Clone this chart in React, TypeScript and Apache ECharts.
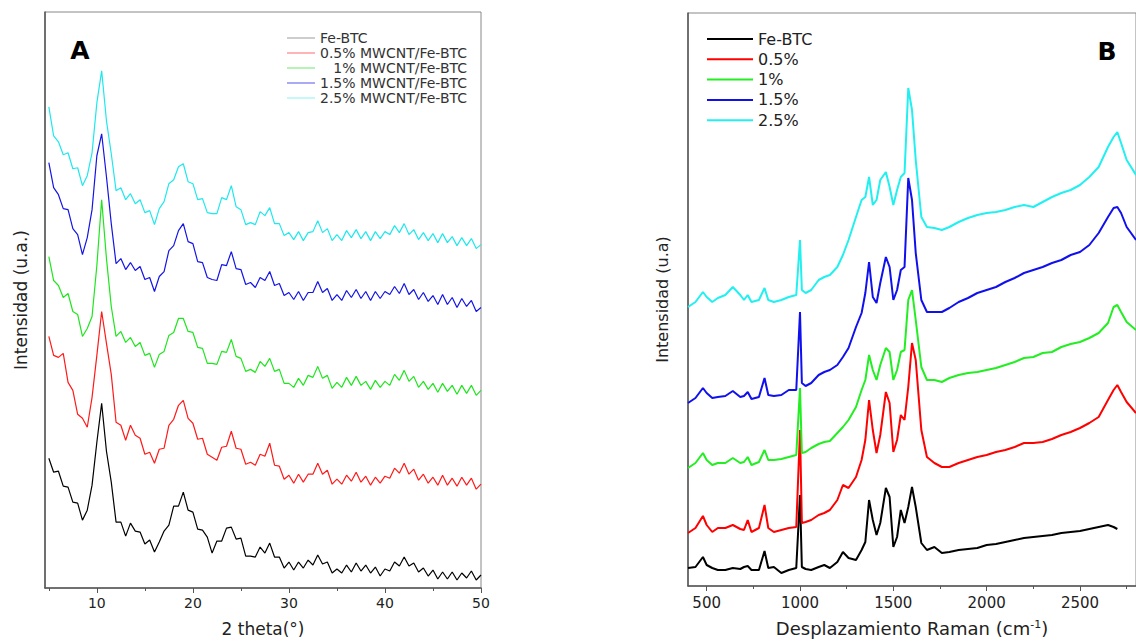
import React, { useEffect, useRef } from "react";
import * as echarts from "echarts";

// ---------- Panel A: XRD (2 theta, degrees) ----------
const theta = [
  5, 5.5, 6, 6.5, 7, 7.5, 8, 8.5, 9, 9.5,
  10, 10.5, 11, 11.5, 12, 12.5, 13, 13.5, 14, 14.5,
  15, 15.5, 16, 16.5, 17, 17.5, 18, 18.5, 19, 19.5,
  20, 20.5, 21, 21.5, 22, 22.5, 23, 23.5, 24, 24.5,
  25, 25.5, 26, 26.5, 27, 27.5, 28, 28.5, 29, 29.5,
  30, 30.5, 31, 31.5, 32, 32.5, 33, 33.5, 34, 34.5,
  35, 35.5, 36, 36.5, 37, 37.5, 38, 38.5, 39, 39.5,
  40, 40.5, 41, 41.5, 42, 42.5, 43, 43.5, 44, 44.5,
  45, 45.5, 46, 46.5, 47, 47.5, 48, 48.5, 49, 49.5,
  50,
];

const xrdFeBTC = [
  130, 116, 117, 102, 101, 86, 85, 68, 78, 103,
  146, 185, 137, 106, 66, 66, 52, 65, 57, 56,
  44, 48, 36, 46, 57, 63, 82, 82, 96, 78,
  76, 59, 58, 51, 35, 47, 47, 60, 61, 49,
  50, 32, 32, 31, 41, 35, 45, 31, 31, 20,
  26, 18, 26, 20, 28, 23, 33, 24, 26, 15,
  19, 15, 23, 16, 25, 17, 23, 15, 21, 12,
  19, 17, 26, 22, 31, 22, 25, 16, 20, 12,
  18, 9, 16, 9, 16, 8, 15, 10, 17, 8,
  13,
];
const xrd05 = [
  252, 233, 231, 235, 206, 198, 174, 170, 161, 191,
  233, 277, 245, 214, 166, 163, 148, 163, 153, 150,
  134, 136, 125, 139, 140, 163, 169, 183, 188, 170,
  165, 149, 150, 134, 131, 128, 141, 142, 157, 140,
  139, 124, 126, 123, 134, 132, 145, 123, 122, 109,
  113, 105, 114, 106, 114, 114, 125, 114, 118, 104,
  109, 104, 113, 107, 116, 106, 112, 103, 111, 105,
  112, 110, 120, 115, 125, 114, 119, 108, 114, 105,
  111, 103, 113, 103, 110, 102, 111, 103, 110, 99,
  104,
];
const xrd1 = [
  332, 308, 303, 291, 295, 277, 274, 252, 260, 272,
  323, 389, 330, 282, 252, 257, 246, 251, 242, 246,
  233, 235, 221, 234, 237, 253, 256, 270, 270, 257,
  256, 241, 240, 225, 225, 224, 237, 236, 249, 232,
  230, 217, 219, 216, 227, 222, 230, 217, 219, 205,
  205, 201, 210, 203, 213, 211, 222, 210, 213, 200,
  206, 201, 211, 203, 212, 203, 207, 199, 208, 201,
  207, 203, 214, 208, 218, 207, 212, 201, 207, 199,
  205, 196, 205, 197, 203, 194, 203, 195, 203, 193,
  198,
];
const xrd15 = [
  426, 401, 394, 380, 379, 360, 354, 334, 351, 379,
  433, 455, 412, 365, 325, 330, 319, 326, 318, 322,
  309, 311, 297, 312, 317, 338, 343, 358, 365, 347,
  345, 327, 326, 311, 309, 308, 324, 323, 337, 320,
  319, 304, 306, 301, 311, 308, 317, 303, 305, 293,
  296, 289, 297, 288, 296, 296, 307, 296, 300, 288,
  294, 288, 298, 291, 299, 290, 297, 288, 297, 290,
  297, 294, 302, 295, 305, 294, 299, 289, 296, 287,
  293, 284, 294, 284, 291, 281, 290, 282, 288, 277,
  281,
];
const xrd25 = [
  482, 453, 447, 434, 436, 420, 421, 403, 413, 436,
  486, 518, 468, 435, 398, 401, 389, 395, 385, 389,
  376, 378, 364, 380, 387, 405, 409, 422, 425, 407,
  405, 389, 390, 376, 375, 375, 391, 389, 403, 382,
  379, 364, 366, 364, 377, 373, 381, 365, 365, 353,
  356, 349, 357, 348, 356, 357, 368, 356, 360, 348,
  354, 348, 358, 351, 359, 350, 357, 348, 357, 350,
  357, 354, 363, 356, 365, 354, 359, 349, 356, 348,
  355, 346, 355, 346, 352, 343, 351, 343, 350, 340,
  344,
];
const xrdNames = [
  "Fe-BTC",
  "0.5% MWCNT/Fe-BTC",
  "1% MWCNT/Fe-BTC",
  "1.5% MWCNT/Fe-BTC",
  "2.5% MWCNT/Fe-BTC",
];
const xrdTickLabels = [10, 20, 30, 40, 50];
const xrdMinorTicks = [5, 15, 25, 35, 45];

// ---------- Panel B: Raman ----------
const ramanShift = [
  400, 440, 480, 500, 530, 560, 600, 640, 680, 700,
  720, 740, 780, 810, 830, 860, 900, 940, 980, 1000,
  1010, 1030, 1060, 1100, 1130, 1160, 1200, 1230, 1260, 1300,
  1330, 1350, 1370, 1390, 1410, 1430, 1460, 1480, 1500, 1520,
  1540, 1560, 1580, 1600, 1620, 1650, 1680, 1720, 1760, 1800,
  1850, 1900, 1950, 2000, 2050, 2100, 2150, 2200, 2250, 2300,
  2350, 2400, 2450, 2500, 2550, 2600, 2650, 2680, 2700, 2720,
  2750, 2800,
];
const ramanFeBTC = [
  18, 19, 29, 21, 18, 16, 16, 18, 17, 19,
  20, 16, 16, 35, 18, 19, 13, 16, 18, 91,
  19, 17, 16, 19, 21, 18, 24, 34, 28, 26,
  36, 44, 86, 66, 51, 63, 98, 89, 39, 49,
  76, 63, 79, 99, 79, 43, 36, 39, 33, 34,
  36, 37, 38, 41, 42, 44, 46, 48, 49, 50,
  51, 53, 54, 55, 57, 59, 61, 59, 57, null,
  null, null,
];
const raman05 = [
  53, 58, 70, 61, 54, 58, 58, 61, 57, 56,
  66, 54, 58, 81, 58, 54, 56, 58, 59, 156,
  63, 64, 66, 71, 73, 76, 86, 101, 98, 109,
  126, 146, 186, 156, 133, 151, 194, 183, 134, 146,
  171, 166, 199, 243, 226, 156, 129, 123, 119, 119,
  123, 126, 129, 131, 134, 136, 139, 143, 143, 144,
  147, 151, 154, 158, 163, 169, 186, 196, 201, 194,
  184, 173,
];
const raman1 = [
  118, 123, 133, 126, 121, 123, 123, 128, 123, 124,
  129, 121, 124, 136, 126, 126, 127, 129, 131, 198,
  133, 134, 138, 142, 144, 145, 153, 159, 166, 179,
  196, 206, 231, 216, 206, 221, 238, 234, 206, 216,
  234, 236, 286, 296, 266, 219, 206, 206, 204, 208,
  211, 213, 214, 216, 218, 221, 224, 228, 229, 233,
  234, 239, 242, 244, 248, 253, 263, 279, 281, 274,
  264, 256,
];
const raman15 = [
  183, 188, 198, 193, 188, 189, 190, 195, 189, 190,
  194, 187, 189, 208, 191, 190, 191, 196, 196, 274,
  203, 200, 203, 211, 214, 216, 221, 229, 238, 259,
  273, 293, 324, 289, 283, 303, 329, 319, 286, 296,
  316, 319, 408, 386, 333, 286, 274, 274, 274, 278,
  284, 288, 293, 296, 299, 304, 308, 313, 316, 319,
  323, 326, 331, 334, 341, 353, 369, 378, 379, 373,
  359, 346,
];
const raman25 = [
  279, 284, 294, 289, 284, 288, 291, 299, 291, 286,
  291, 284, 286, 298, 286, 284, 286, 289, 291, 346,
  296, 293, 296, 306, 309, 311, 319, 331, 346, 369,
  386, 389, 409, 381, 386, 406, 414, 399, 381, 396,
  409, 413, 498, 476, 426, 369, 359, 358, 356, 359,
  364, 368, 371, 373, 374, 376, 379, 381, 379, 384,
  389, 393, 396, 401, 409, 419, 439, 449, 454, 443,
  426, 411,
];
const ramanNames = ["Fe-BTC ", "0.5%", "1%", "1.5%", "2.5%"];
const ramanTickLabels = [500, 1000, 1500, 2000, 2500];
const ramanMinorTicks = [750, 1250, 1750, 2250, 2750];

const FONT = "DejaVu Sans";
const xrdColors = ["#000000", "#ff1a1a", "#1ee61e", "#1414e6", "#1ee8ee"];
const xrdLegendColors = ["#bdbdbd", "#ff9c9c", "#9cf09c", "#8c8cf0", "#b4f6f6"];
const ramanColors = ["#000000", "#ff0000", "#22ee22", "#1010ee", "#22f0f0"];

function pairs(xs: number[], ys: (number | null)[]) {
  const out: [number, number][] = [];
  xs.forEach((x, i) => {
    const y = ys[i];
    if (y !== null && y !== undefined) out.push([x, y]);
  });
  return out;
}

export default function App() {
  const ref = useRef<HTMLDivElement>(null);
  useEffect(() => {
    if (!ref.current) return;
    const chart = echarts.init(ref.current, null, { renderer: "svg" });
    const xrdSets = [xrdFeBTC, xrd05, xrd1, xrd15, xrd25];
    const ramanSets = [ramanFeBTC, raman05, raman1, raman15, raman25];
    const axisLineStyle = { color: "#555", width: 1.5 };
    const plain = (v: number) => String(v);
    const option: any = {
      animation: false,
      backgroundColor: "#ffffff",
      textStyle: { fontFamily: FONT },
      grid: [
        { left: 45, top: 12, width: 436, height: 577, show: true, borderColor: "#888", borderWidth: 1 },
        { left: 688, top: 13, width: 457, height: 573, show: true, borderColor: "#888", borderWidth: 1 },
      ],
      xAxis: [
        {
          type: "value", gridIndex: 0, min: 4.6, max: 50, position: "bottom",
          splitLine: { show: false },
          axisLine: { onZero: false, lineStyle: axisLineStyle },
          axisTick: { customValues: xrdTickLabels, length: 5, lineStyle: { color: "#555" } },
          axisLabel: { customValues: xrdTickLabels, formatter: plain, fontSize: 14, color: "#222", margin: 8, fontFamily: FONT },
          name: "2 theta(°)", nameLocation: "middle", nameGap: 32,
          nameTextStyle: { fontSize: 17, color: "#222", fontFamily: FONT },
        },
        {
          type: "value", gridIndex: 0, min: 4.6, max: 50, position: "bottom",
          splitLine: { show: false },
          axisLine: { show: false, onZero: false },
          axisTick: { customValues: xrdMinorTicks, length: 3, lineStyle: { color: "#555" } },
          axisLabel: { show: false },
        },
        {
          type: "value", gridIndex: 1, min: 400, max: 2800, position: "bottom",
          splitLine: { show: false },
          axisLine: { onZero: false, lineStyle: axisLineStyle },
          axisTick: { customValues: ramanTickLabels, length: 5, lineStyle: { color: "#555" } },
          axisLabel: { customValues: ramanTickLabels, formatter: plain, fontSize: 15, color: "#222", margin: 9, fontFamily: FONT },
          name: "Desplazamiento Raman (cm{sup|-1})", nameLocation: "middle", nameGap: 33,
          nameTextStyle: {
            fontSize: 18, color: "#222", fontFamily: FONT,
            rich: { sup: { fontSize: 11, verticalAlign: "top", color: "#222", fontFamily: FONT, padding: [0, 0, 6, 0] } },
          },
        },
        {
          type: "value", gridIndex: 1, min: 400, max: 2800, position: "bottom",
          splitLine: { show: false },
          axisLine: { show: false, onZero: false },
          axisTick: { customValues: ramanMinorTicks, length: 3, lineStyle: { color: "#555" } },
          axisLabel: { show: false },
        },
      ],
      yAxis: [
        {
          type: "value", gridIndex: 0, min: 0, max: 577,
          splitLine: { show: false }, axisTick: { show: false }, axisLabel: { show: false },
          axisLine: { show: true, onZero: false, lineStyle: axisLineStyle },
          name: "Intensidad (u.a.)", nameLocation: "middle", nameGap: 16,
          nameTextStyle: { fontSize: 17, color: "#222", fontFamily: FONT },
        },
        {
          type: "value", gridIndex: 1, min: 0, max: 573,
          splitLine: { show: false }, axisTick: { show: false }, axisLabel: { show: false },
          axisLine: { show: true, onZero: false, lineStyle: axisLineStyle },
          name: "Intensidad (u.a)", nameLocation: "middle", nameGap: 18,
          nameTextStyle: { fontSize: 16, color: "#222", fontFamily: FONT },
        },
      ],
      legend: [
        {
          orient: "vertical", left: 287, top: 31, padding: 0,
          icon: "rect", itemWidth: 28, itemHeight: 1.5, itemGap: 1, selectedMode: false,
          textStyle: { fontSize: 14, color: "#333", fontFamily: FONT },
          formatter: (n: string) => (n === "1% MWCNT/Fe-BTC" ? "\u00a0\u00a0\u00a0" + n : n),
          data: xrdNames.map((n, i) => ({ name: n, icon: "rect", itemStyle: { color: xrdLegendColors[i], borderWidth: 0 } })),
        },
        {
          orient: "vertical", left: 707, top: 31, padding: 0,
          icon: "rect", itemWidth: 46, itemHeight: 2, itemGap: 4.3, selectedMode: false,
          textStyle: { fontSize: 16, color: "#222", fontFamily: FONT },
          formatter: (n: string) => n.trim(),
          data: ramanNames.map((n, i) => ({ name: n, icon: "rect", itemStyle: { color: ramanColors[i], borderWidth: 0 } })),
        },
      ],
      graphic: [
        { type: "text", x: 80, y: 50, style: { text: "A", font: `bold 25px "${FONT}"`, fill: "#000", align: "center", verticalAlign: "middle" } },
        { type: "text", x: 1107, y: 51, style: { text: "B", font: `bold 25px "${FONT}"`, fill: "#000", align: "center", verticalAlign: "middle" } },
      ],
      series: [
        ...xrdNames.map((n, i) => ({
          name: n, type: "line", xAxisIndex: 0, yAxisIndex: 0,
          data: pairs(theta, xrdSets[i]), showSymbol: false, symbol: "none",
          lineStyle: { color: xrdColors[i], width: 1.2 }, itemStyle: { color: xrdColors[i] },
        })),
        ...ramanNames.map((n, i) => ({
          name: n, type: "line", xAxisIndex: 2, yAxisIndex: 1,
          data: pairs(ramanShift, ramanSets[i]), showSymbol: false, symbol: "none",
          lineStyle: { color: ramanColors[i], width: 2 }, itemStyle: { color: ramanColors[i] },
        })),
      ],
    };
    chart.setOption(option);
    return () => chart.dispose();
  }, []);
  return (
    <div
      ref={ref}
      style={{ position: "absolute", left: 0, top: 0, width: 1136, height: 642, background: "#fff" }}
    />
  );
}
